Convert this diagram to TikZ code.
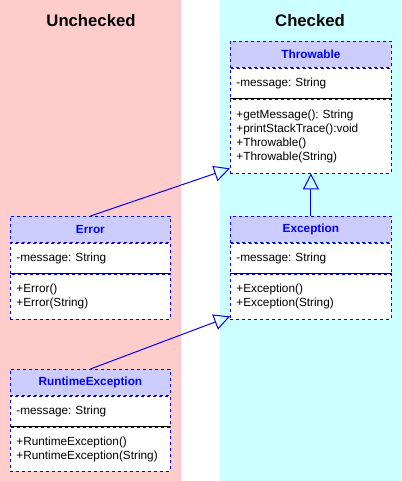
\documentclass[tikz,border=0pt]{standalone}
\usepackage{fontspec}
\setmainfont{Liberation Sans}
\usetikzlibrary{arrows.meta,calc}
\definecolor{pinkbg}{HTML}{FFCCCC}
\definecolor{cyanbg}{HTML}{CCFFFF}
\definecolor{hdrfill}{HTML}{CCCCFF}
\definecolor{umlblue}{HTML}{0000FF}
\frenchspacing
\tikzset{
  zone/.style={fill=#1, draw=none},
  zonetitle/.style={font=\fontsize{16.7bp}{20bp}\selectfont\bfseries, inner sep=0pt},
  hdr/.style={draw=umlblue, fill=hdrfill, dash pattern=on 3bp off 3bp, line width=0.8bp,
    text=umlblue, font=\fontsize{11.8bp}{14bp}\selectfont\bfseries\frenchspacing, inner sep=0pt, anchor=north west},
  sec/.style={draw=umlblue, fill=white, dash pattern=on 3bp off 3bp, line width=0.8bp,
    font=\fontsize{11.8bp}{14bp}\selectfont\frenchspacing, inner xsep=6bp, inner ysep=0pt, align=left, anchor=north west},
  sepline/.style={draw=black, line width=0.8bp},
  inh/.style={draw=umlblue, line width=1bp, -{Triangle[open, length=16bp, width=16bp]}},
}
\begin{document}
\begin{tikzpicture}[x=1bp, y=-1bp]
\useasboundingbox (0,0) rectangle (401,481);
\fill[zone=pinkbg] (0,0) rectangle (181,481);
\fill[zone=cyanbg] (220,0) rectangle (401,481);
\node[zonetitle] (tU) at (91,21) {Unchecked};
\node[zonetitle] (tC) at (310,21) {Checked};

% Throwable
\node[hdr, minimum width=161bp, minimum height=26bp] (thrH) at (230,41) {Throwable};
\node[sec, text width=149bp, minimum height=30bp] (thrA) at (thrH.south west) {-message: String};
\node[sec, text width=149bp, minimum height=74bp] (thrM) at (thrA.south west) {+getMessage(): String\\+printStackTrace():void\\+Throwable()\\+Throwable(String)};
\draw[sepline] (thrM.north west) -- (thrM.north east);

% Error
\node[hdr, minimum width=160bp, minimum height=26bp] (errH) at (10,216) {Error};
\node[sec, text width=148bp, minimum height=30bp] (errA) at (errH.south west) {-message: String};
\node[sec, text width=148bp, minimum height=45bp] (errM) at (errA.south west) {+Error()\\+Error(String)};
\draw[sepline] (errM.north west) -- (errM.north east);

% Exception
\node[hdr, minimum width=161bp, minimum height=26bp] (excH) at (230,216) {Exception};
\node[sec, text width=149bp, minimum height=30bp] (excA) at (excH.south west) {-message: String};
\node[sec, text width=149bp, minimum height=45bp] (excM) at (excA.south west) {+Exception()\\+Exception(String)};
\draw[sepline] (excM.north west) -- (excM.north east);

% RuntimeException
\node[hdr, minimum width=160bp, minimum height=26bp] (rteH) at (10,369) {RuntimeException};
\node[sec, text width=148bp, minimum height=30bp] (rteA) at (rteH.south west) {-message: String};
\node[sec, text width=148bp, minimum height=44bp] (rteM) at (rteA.south west) {+RuntimeException()\\+RuntimeException(String)};
\draw[sepline] (rteM.north west) -- (rteM.north east);

% inheritance
\draw[inh] (errH.north) -- ($(thrM.south west)+(0,-5)$);
\draw[inh] (excH.north) -- (thrM.south);
\draw[inh] (rteH.north) -- ($(excM.south west)+(0,-3)$);
\end{tikzpicture}
\end{document}
